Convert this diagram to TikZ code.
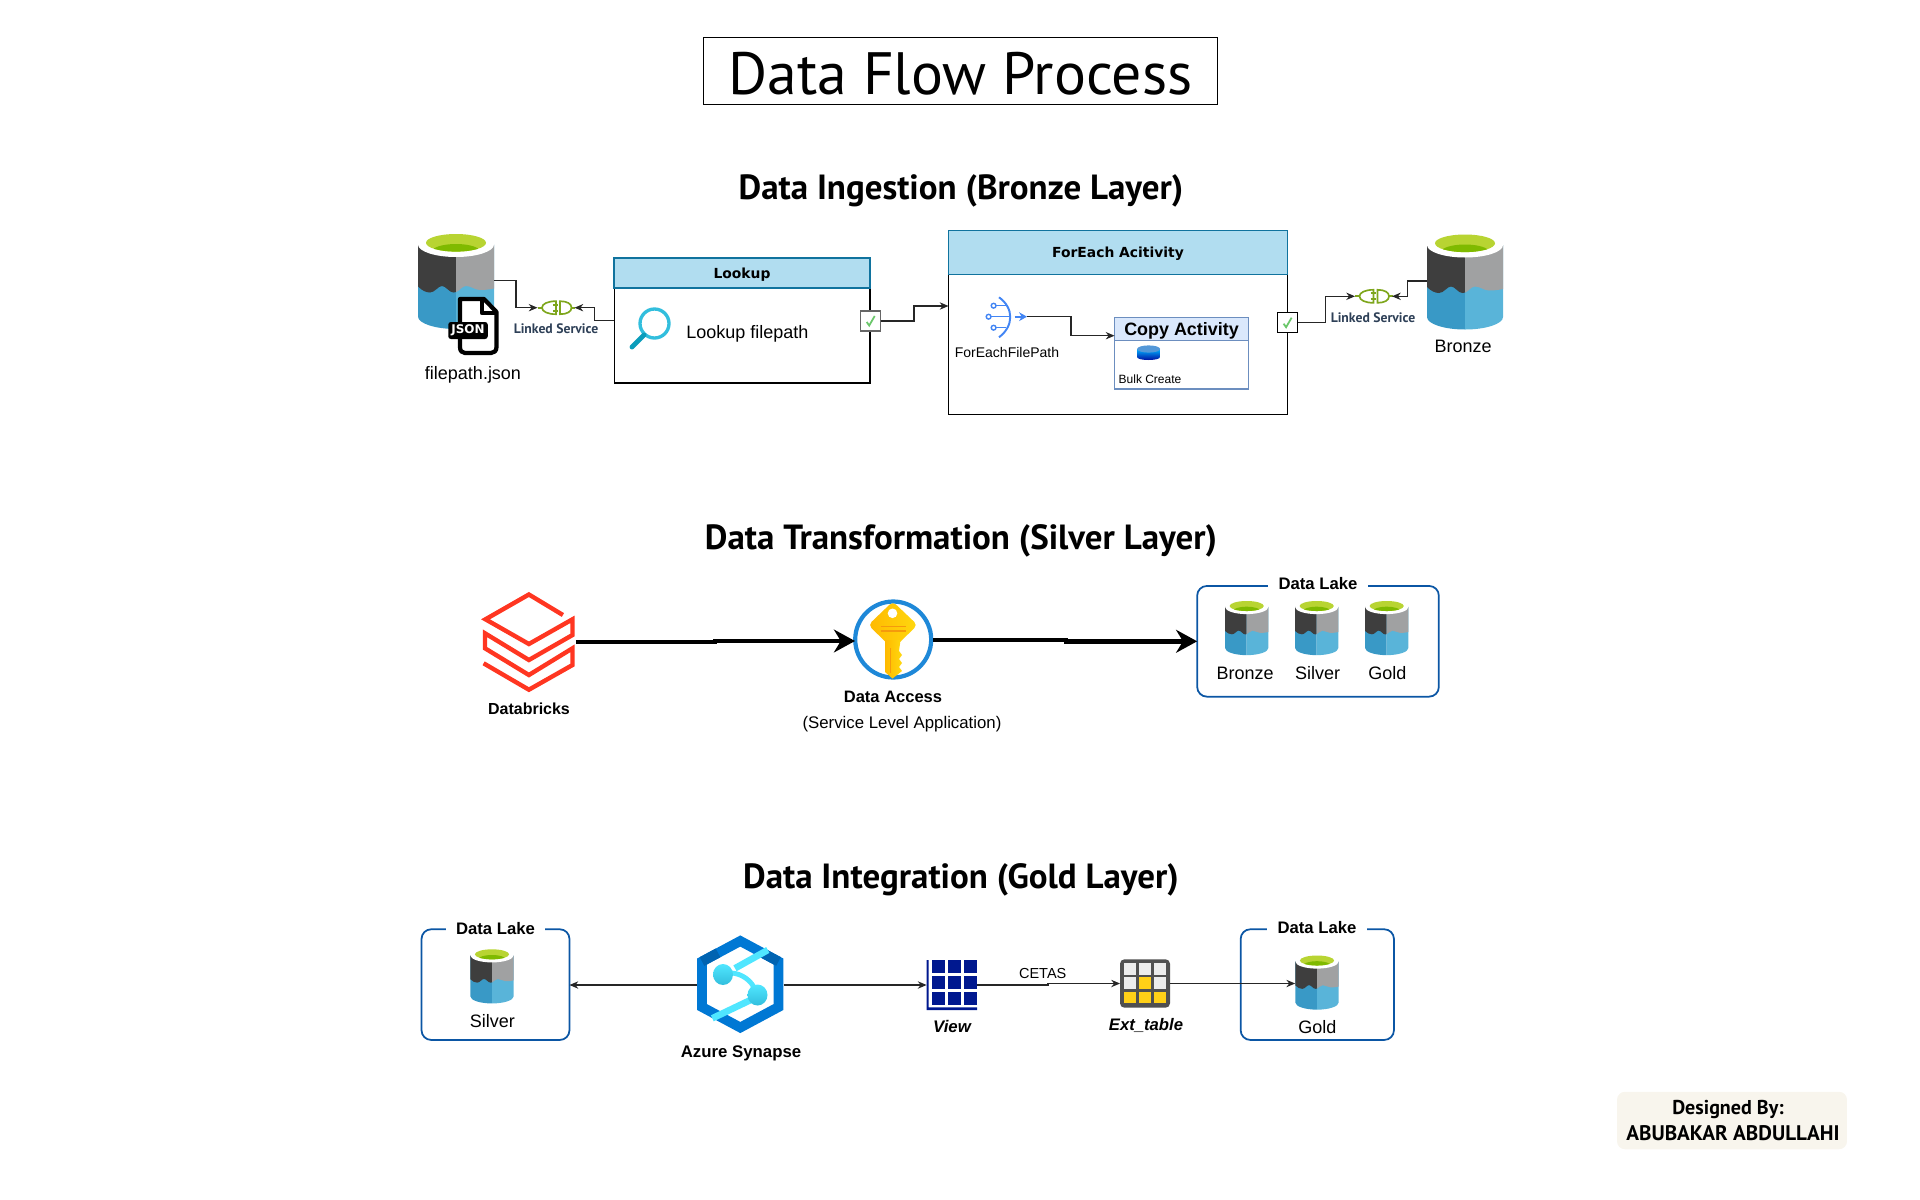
\documentclass[tikz,border=0pt]{standalone}
\usepackage{fontspec}
\setmainfont{Liberation Sans}
\newfontfamily\comicfont{PT Sans}
\newfontfamily\wfont{DejaVu Sans}
\usetikzlibrary{arrows.meta}

\definecolor{canleft}{HTML}{3999C6}
\definecolor{canright}{HTML}{59B4D9}
\definecolor{candark}{HTML}{3E3E3E}
\definecolor{cangrey}{HTML}{A0A1A2}
\definecolor{cangreen}{HTML}{B8D432}
\definecolor{canmoss}{HTML}{7FBA00}
\definecolor{headfill}{HTML}{B1DDF0}
\definecolor{headline}{HTML}{10739E}
\definecolor{copyfill}{HTML}{DAE8FC}
\definecolor{copyline}{HTML}{6C8EBF}
\definecolor{plugcol}{HTML}{7EA61C}
\definecolor{lakeline}{HTML}{0B56A4}
\definecolor{brickred}{HTML}{FF3621}
\definecolor{foreachblue}{HTML}{4285F4}
\definecolor{keyblue}{HTML}{1E88D8}
\definecolor{keygold}{HTML}{FFB900}
\definecolor{keyyell}{HTML}{FFD80F}
\definecolor{keyline}{HTML}{F59A0C}
\definecolor{synblue}{HTML}{0078D4}
\definecolor{syndark}{HTML}{0063B1}
\definecolor{synlight}{HTML}{50E6FF}
\definecolor{synball}{HTML}{32BEDD}
\definecolor{viewnavy}{HTML}{00188F}
\definecolor{extdark}{HTML}{505050}
\definecolor{extgrey}{HTML}{ECECEC}
\definecolor{extyell}{HTML}{FFD017}
\definecolor{creditbg}{HTML}{F8F5ED}
\definecolor{svcnavy}{HTML}{2E4057}

\begin{document}
\begin{tikzpicture}[
    x=0.02cm, y=-0.02cm,
    txt/.style={inner sep=0pt, font=\fontsize{#1pt}{#1pt}\selectfont},
    txtb/.style={inner sep=0pt, font=\fontsize{#1pt}{#1pt}\selectfont\bfseries},
    txtbi/.style={inner sep=0pt, font=\fontsize{#1pt}{#1pt}\selectfont\bfseries\itshape},
    wtxt/.style={inner sep=0pt, font=\wfont\fontsize{#1pt}{#1pt}\selectfont\bfseries},
    headtxt/.style={inner sep=0pt, font=\comicfont\fontsize{#1pt}{#1pt}\selectfont\bfseries},
    svctxt/.style={inner sep=0pt, text=svcnavy, font=\comicfont\fontsize{7.8pt}{7.8pt}\selectfont\bfseries},
    iconbox/.style 2 args={inner sep=0pt, outer sep=0pt, minimum width=#1*0.569pt, minimum height=#2*0.569pt},
    link/.style={-{Stealth[length=5pt,width=4.2pt]}, line width=0.65pt, black!85},
    bigarrow/.style={-{Stealth[length=12pt,width=13pt]}, line width=2.8pt},
    lakebox/.style 2 args={draw=lakeline, line width=1pt, rounded corners=5.5pt, inner sep=0pt, outer sep=0pt, minimum width=#1*0.569pt, minimum height=#2*0.569pt},
    laketitle/.style={fill=white, inner sep=0pt, minimum height=12pt, font=\fontsize{9.5pt}{9.5pt}\selectfont\bfseries},
    lakecan/.pic={
        \fill[canleft] (-38,-36) -- (-38,36) .. controls (-38,42.9) and (-20.9,48.5) .. (0,48.5) -- (0,-36) -- cycle;
        \fill[canright] (38,-36) -- (38,36) .. controls (38,42.9) and (20.9,48.5) .. (0,48.5) -- (0,-36) -- cycle;
        \fill[candark] (-38,-36) -- (-38,6) .. controls (-34,10) and (-30,12) .. (-26,12) .. controls (-21,12) and (-18,5.5) .. (-14,5.5) .. controls (-10,5.5) and (-7,12) .. (-2.5,12) .. controls (-1.5,12) and (-0.7,12) .. (0,11.5) -- (0,-36) -- cycle;
        \fill[cangrey] (0,-36) -- (0,11.5) .. controls (3,11) and (6,5.5) .. (10,5.5) .. controls (15,5.5) and (19,9.5) .. (24,9.5) .. controls (29,9.5) and (33,9) .. (38,8) -- (38,-36) -- cycle;
        \fill[white] (0,-36) ellipse [x radius=38, y radius=12.5];
        \fill[cangreen] (0,-37.7) ellipse [x radius=30, y radius=8.8];
        \begin{scope}
            \clip (0,-37.7) ellipse [x radius=30, y radius=8.8];
            \fill[canmoss] (0,-29) ellipse [x radius=24, y radius=7.5];
        \end{scope}
    },
    plugicon/.pic={
        \draw[plugcol, line width=0.95pt] (-18.5,0) -- (-14,0);
        \draw[plugcol, line width=0.95pt] (0,-6.5) .. controls (-8,-6.5) and (-14,-4) .. (-14,0) .. controls (-14,4) and (-8,6.5) .. (0,6.5) -- cycle;
        \draw[plugcol, line width=0.95pt] (-3,-3) -- (2,-3) (-3,3) -- (2,3);
        \draw[plugcol, line width=0.95pt] (4,-6.5) .. controls (11,-6.5) and (15.5,-4) .. (15.5,0) .. controls (15.5,4) and (11,6.5) .. (4,6.5) -- cycle;
        \draw[plugcol, line width=0.95pt] (15.5,0) -- (19,0);
    },
    okicon/.pic={
        \draw[green!45!gray!80, line width=1pt] (-4,1) -- (-1.5,4.5) -- (4,-5);
    }
]
\useasboundingbox (0,0) rectangle (1920,1200);

% Titles
\node[draw, line width=0.6pt, inner sep=0pt, minimum width=514.6*0.569pt, minimum height=67*0.569pt, font=\comicfont\fontsize{34pt}{34pt}\selectfont] (title) at (960.5,70.7) {\raisebox{-13.8pt}[0pt][0pt]{Data Flow Process}};
\node[headtxt=19.9] (ingest) at (961,190.5) {Data Ingestion (Bronze Layer)};
\node[headtxt=19.9] (transform) at (961,540.5) {Data Transformation (Silver Layer)};
\node[headtxt=19.9] (integrate) at (961,879.5) {Data Integration (Gold Layer)};

% Ingestion: source can and json file
\node[iconbox={76}{97}] (source) at (456,280.5) {};
\pic at (source) {lakecan};
\draw[black, line width=2.4pt, fill=white, line join=round] (460,299) -- (484,299) -- (496.5,312) -- (496.5,347) .. controls (496.5,351) and (494,353) .. (491,353) -- (465,353) .. controls (462,353) and (460,351) .. (460,347) -- cycle;
\draw[black, line width=2.4pt, line join=round] (482,299) -- (482,313) -- (496.5,313);
\node[fill=black, text=white, rounded corners=1.5pt, inner sep=0pt, minimum width=39.5*0.569pt, minimum height=17*0.569pt, font=\wfont\fontsize{6.8pt}{6.8pt}\selectfont\bfseries] (json) at (468,330.5) {JSON};
\node[txt=10.24] (filepath) at (473,374.5) {filepath.json};

% Linked services
\node[iconbox={37}{15}] (plugin) at (556,307.7) {};
\pic at (plugin) {plugicon};
\node[svctxt] (svcin) at (556,329) {Linked Service};
\node[iconbox={37}{15}] (plugout) at (1373.5,296.3) {};
\pic at (plugout) {plugicon};
\node[svctxt] (svcout) at (1373,318) {Linked Service};

% Lookup
\node[draw, line width=0.6pt, inner sep=0pt, outer sep=0pt, minimum width=256*0.569pt, minimum height=125*0.569pt] (lookup) at (742,320.5) {};
\node[draw=headline, fill=headfill, line width=0.7pt, inner sep=0pt, outer sep=0pt, minimum width=256*0.569pt, minimum height=30*0.569pt, wtxt=7.9] (lookuphead) at (742,273) {\raisebox{-3pt}[0pt][0pt]{Lookup}};
\draw[synball, line width=1.9pt] (654.5,323.5) circle [radius=14.5];
\draw[headline!70!cyan, line width=2.8pt, line cap=round] (644,335) -- (632,347);
\node[txt=10.24] (lookuptxt) at (747.5,334.2) {Lookup filepath};
\node[draw=black!60, fill=white, line width=0.7pt, inner sep=0pt, outer sep=0pt, minimum size=20*0.569pt] (okone) at (870.7,321) {};
\pic at (okone) {okicon};

% ForEach
\node[draw, line width=0.6pt, inner sep=0pt, outer sep=0pt, minimum width=339*0.569pt, minimum height=183.6*0.569pt] (foreach) at (1118,322.5) {};
\node[draw=headline, fill=headfill, line width=0.7pt, inner sep=0pt, outer sep=0pt, minimum width=339*0.569pt, minimum height=43.6*0.569pt, wtxt=7.9] (foreachhead) at (1118,252.5) {\raisebox{-2.7pt}[0pt][0pt]{ForEach Acitivity}};
\coordinate (foreachin) at (948.5,306);
\node[iconbox={41}{41}] (foreachicon) at (1006.5,316.7) {};
\draw[foreachblue, line width=1.1pt] (999,297.3) .. controls (1014,308) and (1014,326) .. (999,337.3);
\draw[foreachblue, line width=0.8pt] (996,305.7) -- (1006,305.7) (991,316.7) -- (1011,316.7) (996,327.7) -- (1006,327.7);
\foreach \cx/\cy in {993.6/305.7,988.6/316.7,993.6/327.7} {
    \draw[foreachblue, fill=white, line width=0.8pt] (\cx,\cy) circle [radius=2.4];
}
\draw[foreachblue, line width=1.2pt, -{Stealth[length=4.5pt,width=5pt]}] (1014.6,316.7) -- (foreachicon.east);
\node[txt=7.97] (foreachtxt) at (1007,352.3) {ForEachFilePath};

% Copy activity
\node[draw=copyline, line width=0.7pt, inner sep=0pt, outer sep=0pt, minimum width=134*0.569pt, minimum height=71.3*0.569pt] (copybox) at (1181.5,353.3) {};
\node[draw=copyline, fill=copyfill, line width=0.7pt, inner sep=0pt, outer sep=0pt, minimum width=134*0.569pt, minimum height=23*0.569pt, txtb=10.2] (copyhead) at (1181.5,329.2) {\raisebox{-3.3pt}[0pt][0pt]{Copy Activity}};
\coordinate (copyin) at (1114.5,335.7);
\shade[top color=blue!30!cyan, bottom color=blue!60!black] (1137,349) -- (1137,357) .. controls (1137,361) and (1160,361) .. (1160,357) -- (1160,349) -- cycle;
\fill[cyan!60!blue!70] (1148.6,349) ellipse [x radius=11.5, y radius=3.6];
\node[txt=6.83] (bulk) at (1150,379.7) {Bulk Create};
\node[draw, fill=white, line width=0.7pt, inner sep=0pt, outer sep=0pt, minimum size=20*0.569pt] (oktwo) at (1287.6,322.7) {};
\pic at (oktwo) {okicon};

% Bronze can
\node[iconbox={76}{97}] (bronze) at (1465,281) {};
\pic at (bronze) {lakecan};
\node[txt=10.24] (bronzetxt) at (1463,346) {Bronze};

% Ingestion links
\draw[link] (source.east) -- ++(22,0) |- (plugin.west);
\draw[link] (lookup.west) -- ++(-19.4,0) |- (plugin.east);
\draw[link] (okone.east) -- ++(33.3,0) |- (foreachin);
\draw[link] (foreachicon.east) -- ++(44,0) |- (copyin);
\draw[link] (oktwo.east) -- ++(28,0) |- (plugout.west);
\draw[link] (bronze.west) -- ++(-19.3,0) |- (plugout.east);

% Transformation: databricks
\node[iconbox={94}{100}] (bricks) at (529,642) {};
\draw[brickred, line width=2.5pt, line join=miter] (562.9,615) -- (528.9,594.5) -- (485.5,619.3) -- (528.9,644) -- (572.5,619.3) -- (572.5,635) -- (528.9,660) -- (485,633.3) -- (485,648.3) -- (528.9,675) -- (572.5,648.3) -- (572.5,665) -- (528.9,689.7) -- (483.6,663.3);
\node[txtb=9.1] (brickstxt) at (529,708.3) {Databricks};

% Key
\node[draw=keyblue, fill=white, line width=2.4pt, circle, inner sep=0pt, outer sep=0pt, minimum size=76*0.569pt] (key) at (893.2,639.5) {};
\coordinate (keyin) at (855,641);
\coordinate (keyout) at (933,640);
\shade[left color=keygold, right color=keyyell, rounded corners=2.5pt] (892.8,601.5) -- (917.5,625) -- (892.8,649) -- (868.3,625) -- cycle;
\shade[left color=keygold, right color=keyyell] (885,640) -- (885,672) -- (892.5,678.5) -- (902,671) -- (899,667) -- (902,663) -- (899,659) -- (902,655) -- (899,651) -- (900.5,640) -- cycle;
\fill[white] (892.5,613.3) circle [radius=4.8];
\draw[keyline, line width=0.9pt] (880.7,626.7) -- (905.7,626.7) (880.7,631) -- (905.7,631) (890.4,648) -- (890.4,673);
\node[txtb=9.4] (accesstxt) at (893,696.7) {Data Access};
\node[txt=9.56] (slatxt) at (902,724) {(Service Level Application)};

% Data lake, three layers
\node[lakebox={241.7}{110.7}] (lakeall) at (1318,641.3) {};
\node[laketitle, minimum width=100*0.569pt] (lakealltxt) at (1318,583.3) {Data Lake};
\foreach \n/\x/\lx in {Bronze/1246.7/1245,Silver/1316.7/1317.7,Gold/1386.7/1387.3} {
    \node[iconbox={43.3}{55.3}] (can\n) at (\x,627.5) {};
    \pic[scale=0.57] at (can\n) {lakecan};
    \node[txt=10.24, anchor=base] (lbl\n) at (\lx,679) {\n};
}

% Transformation links
\draw[bigarrow] (bricks.east) -- ++(139,0) |- (keyin);
\draw[bigarrow] (keyout) -- ++(133,0) |- (lakeall.west);

% Integration: silver lake
\node[lakebox={148}{110.7}] (lakeleft) at (495.5,984.6) {};
\node[laketitle, minimum width=100*0.569pt] (lakelefttxt) at (495.5,928.3) {Data Lake};
\node[iconbox={43.3}{55.3}] (cansilver) at (492,975.8) {};
\pic[scale=0.57] at (cansilver) {lakecan};
\node[txt=10.24] (silvertxt) at (492.3,1021) {Silver};

% Synapse
\node[iconbox={86.5}{98.3}] (synapse) at (740.3,985) {};
\draw[synblue, line width=5.6pt, line join=miter] (740.3,941) -- (778.5,961.5) -- (778.5,1007) -- (740.3,1027.5) -- (702,1007) -- (702,961.5) -- cycle;
\draw[syndark, line width=5.6pt] (702,961.5) -- (718,952.9) (778.5,961.5) -- (762.5,952.9);
\draw[synlight, line width=3.8pt] (735,968.3) -- (767.8,950) (712.3,1018.3) -- (750.6,1000);
\draw[synlight, line width=2.8pt] (731.5,973) .. controls (741,973.5) and (752,980) .. (756,991.7);
\shade[top color=synlight, bottom color=synball] (723,974.5) ellipse [x radius=10, y radius=10.5];
\shade[top color=synlight, bottom color=synball] (757.5,995) ellipse [x radius=10, y radius=10.5];
\node[txtb=9.56] (synapsetxt) at (741,1053) {Azure Synapse};

% View
\node[iconbox={50.4}{50}] (view) at (951.8,985) {};
\fill[viewnavy] (926.6,960) rectangle (928.5,1010) (926.6,1007.3) rectangle (977,1010);
\foreach \cx in {932,947.7,963.8} {
    \foreach \cy in {960,976,991.7} {
        \fill[viewnavy] (\cx,\cy) rectangle ++(13,13.2);
    }
}
\node[txtbi=9.56] (viewtxt) at (952,1026.7) {View};

% External table
\node[fill=extdark, rounded corners=2.5pt, inner sep=0pt, outer sep=0pt, minimum width=50*0.569pt, minimum height=48.4*0.569pt] (ext) at (1145,983.5) {};
\foreach \cx/\cy/\col in {1124/963.3/extgrey,1139.3/963.3/extgrey,1154.3/963.3/extgrey,1124/977.3/extgrey,1139.3/977.3/extyell,1154.3/977.3/extgrey,1124/992/extyell,1139.3/992/extyell,1154.3/992/extyell} {
    \fill[\col] (\cx,\cy) rectangle ++(12,11.3);
}
\node[txtbi=9.5] (exttxt) at (1146,1025) {Ext\_table};

% Gold lake
\node[lakebox={153.3}{110.7}] (lakeright) at (1317.3,984.6) {};
\node[laketitle, minimum width=100*0.569pt] (lakerighttxt) at (1317,927.3) {Data Lake};
\node[iconbox={43.7}{55.7}] (cangold) at (1317,982) {};
\pic[scale=0.57] at (cangold) {lakecan};
\node[txt=10.24] (goldtxt) at (1317.3,1026.7) {Gold};

% Integration links
\draw[link] (synapse.west) -- (synapse.west -| lakeleft.east);
\draw[link] (synapse.east) -- (view.west);
\draw[link] (view.east) -- ++(71,0) |- (ext.west);
\node[txt=8.25] (cetas) at (1042.7,973.3) {CETAS};
\draw[link] (ext.east) -- (ext.east -| cangold.west);

% Credit
\node[fill=creditbg, rounded corners=4.5pt, inner sep=0pt, outer sep=0pt, minimum width=230*0.569pt, minimum height=57.5*0.569pt] (credit) at (1732,1120.5) {};
\node[headtxt=11.4] (creditone) at (1728,1109.3) {Designed By:};
\node[headtxt=12] (credittwo) at (1733,1132.7) {ABUBAKAR ABDULLAHI};

\end{tikzpicture}
\end{document}
